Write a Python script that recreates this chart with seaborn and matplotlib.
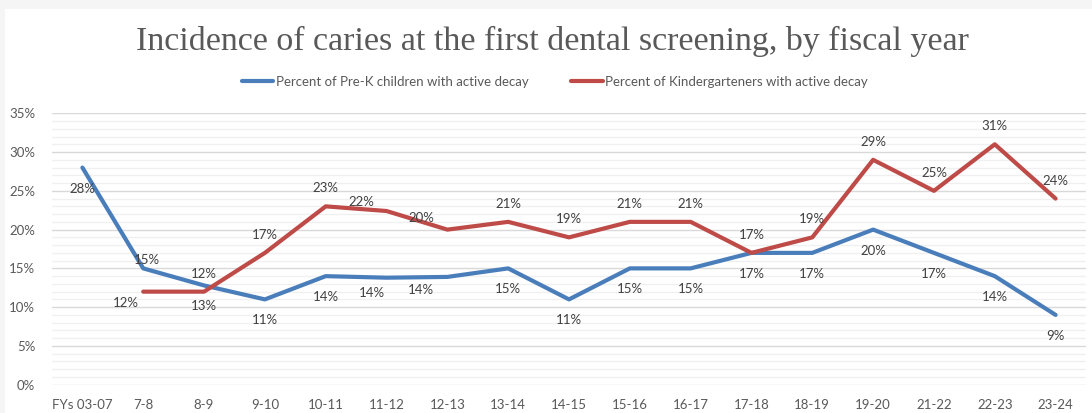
import numpy as np
import pandas as pd
import matplotlib
matplotlib.use("Agg")
import matplotlib.pyplot as plt
import seaborn as sns
from matplotlib.patches import Rectangle
from matplotlib.lines import Line2D
from matplotlib.ticker import MultipleLocator, FuncFormatter

categories = ["FYs 03-07", "7-8", "8-9", "9-10", "10-11", "11-12", "12-13", "13-14",
              "14-15", "15-16", "16-17", "17-18", "18-19", "19-20", "21-22", "22-23", "23-24"]
prek = [28, 15, 12.8, 11, 14, 13.8, 13.9, 15, 11, 15, 15, 17, 17, 20, 17, 14, 9]
kinder = [np.nan, 12, 12, 17, 23, 22.4, 20, 21, 19, 21, 21, 17, 19, 29, 25, 31, 24]
prek_labels = [28, 15, 13, 11, 14, 14, 14, 15, 11, 15, 15, 17, 17, 20, 17, 14, 9]
kinder_labels = [None, 12, 12, 17, 23, 22, 20, 21, 19, 21, 21, 17, 19, 29, 25, 31, 24]
series_names = ["Percent of Pre-K children with active decay",
                "Percent of Kindergarteners with active decay"]
colors = ["#4A7EBB", "#BE4B48"]

sns.set_theme(style="white")
plt.rcParams["font.family"] = ["Lato", "DejaVu Sans"]

df = pd.DataFrame({
    "x": list(range(len(categories))) * 2,
    "value": prek + kinder,
    "series": [series_names[0]] * len(categories) + [series_names[1]] * len(categories),
})

fig = plt.figure(figsize=(10.92, 4.13), dpi=100, facecolor="#f5f5f5")
fig.patches.append(Rectangle((5 / 1092, 0), 1, 1 - 9 / 413, transform=fig.transFigure,
                             facecolor="white", edgecolor="none", zorder=-10))
ax = fig.add_axes([52 / 1092, 1 - 384.7 / 413, (1086 - 52) / 1092, (384.7 - 113.3) / 413])
ax.set_facecolor("none")

sns.lineplot(data=df.dropna(), x="x", y="value", hue="series", palette=colors,
             linewidth=3.0, sort=False, ax=ax, legend=False, zorder=3)

ax.set_xlim(-0.5, len(categories) - 0.5)
ax.set_ylim(0, 35)
ax.yaxis.set_major_locator(MultipleLocator(5))
ax.yaxis.set_minor_locator(MultipleLocator(1))
ax.yaxis.set_major_formatter(FuncFormatter(lambda v, p: f"{v:.0f}%"))
ax.grid(which="major", axis="y", color="#d9d9d9", linewidth=1.0, zorder=0)
ax.grid(which="minor", axis="y", color="#f0f0f0", linewidth=1.0, zorder=0)
ax.set_xticks(range(len(categories)))
ax.set_xticklabels(categories)
ax.tick_params(axis="both", which="both", length=0, labelsize=9.5, labelcolor="#595959")
ax.tick_params(axis="x", pad=10)
ax.tick_params(axis="y", pad=12)
for s in ax.spines.values():
    s.set_visible(False)
ax.set_xlabel("")
ax.set_ylabel("")

# data labels (pixel offsets)
prek_off = {1: (4, 8.5), 5: (-15, -15), 6: (-26, -13)}
kinder_off = {1: (-17, -11), 5: (-25, 9), 6: (-26, 12)}
for i, (v, lab) in enumerate(zip(prek, prek_labels)):
    dx, dy = prek_off.get(i, (0, -21))
    ax.annotate(f"{lab}%", (i, v), xytext=(dx, dy), textcoords="offset pixels",
                ha="center", va="center", fontsize=9.5, color="#404040", zorder=5)
for i, (v, lab) in enumerate(zip(kinder, kinder_labels)):
    if lab is None:
        continue
    dx, dy = kinder_off.get(i, (0, 18))
    ax.annotate(f"{lab}%", (i, v), xytext=(dx, dy), textcoords="offset pixels",
                ha="center", va="center", fontsize=9.5, color="#404040", zorder=5)

fig.text(552 / 1092, 1 - 41 / 413, "Incidence of caries at the first dental screening, by fiscal year",
         ha="center", va="center", fontsize=24.5, color="#595959",
         family=["Liberation Serif", "DejaVu Serif"])

handles = [Line2D([], [], color=c, linewidth=3.0) for c in colors]
fig.legend(handles, series_names, loc="center", bbox_to_anchor=(555 / 1092, 1 - 82 / 413),
           ncol=2, frameon=False, fontsize=9.5, handlelength=2.4, handletextpad=0.2,
           columnspacing=3.2, labelcolor="#595959")

fig.savefig("out.png", dpi=100, facecolor=fig.get_facecolor())
